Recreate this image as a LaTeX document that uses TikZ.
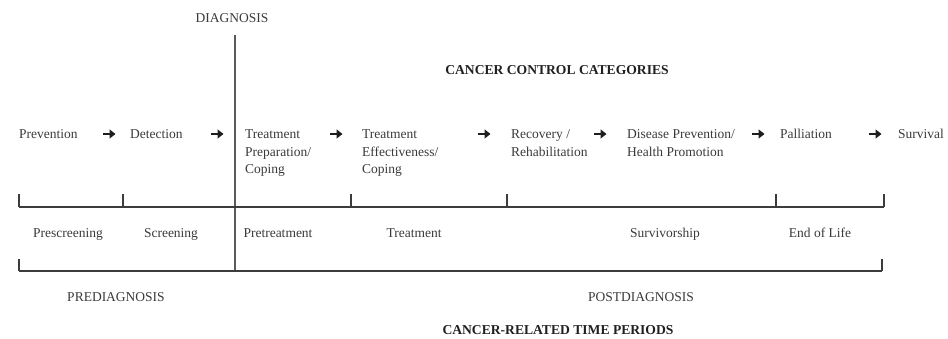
\documentclass[tikz,border=0pt]{standalone}
\usepackage{fontspec}
\setmainfont{Liberation Serif}
\usetikzlibrary{arrows.meta}
\definecolor{txtgray}{HTML}{3A3A3A}
\definecolor{ttlgray}{HTML}{202020}
\definecolor{linegray}{HTML}{3C3C3C}
\definecolor{diaggray}{HTML}{5A5A5A}
\definecolor{arrowgray}{HTML}{1E1E1E}
\newcommand{\toplines}[1]{\begin{tabular}[t]{@{}l@{}}#1\end{tabular}}
\begin{document}
\begin{tikzpicture}[x=1pt,y=-1pt,
  lbl/.style={inner sep=0pt, font=\fontsize{13.5}{17.5}\selectfont, text=txtgray},
  cat/.style={lbl, anchor=base west},
  per/.style={lbl, anchor=base},
  ttl/.style={inner sep=0pt, font=\fontsize{13.6}{16}\selectfont\bfseries, text=ttlgray, anchor=base},
  phase/.style={lbl, anchor=base},
  bar/.style={draw=linegray, line width=1.3pt},
  diagline/.style={draw=diaggray, line width=2pt},
  flow/.style={draw=arrowgray, line width=2.6pt, -{Triangle[width=9pt,length=6pt]}}]
\useasboundingbox (0,0) rectangle (948,339);

% titles
\node[lbl, anchor=base] (diagnosis) at (232,22.5) {DIAGNOSIS};
\node[ttl] (cct) at (557,74.5) {CANCER CONTROL CATEGORIES};
\node[ttl] (crtp) at (558,334.5) {CANCER-RELATED TIME PERIODS};

% cancer control categories
\node[cat] (prev) at (19,139) {Prevention};
\node[cat] (det) at (130,139) {Detection};
\node[cat] (tprep) at (245,139) {\toplines{Treatment\\Preparation/\\Coping}};
\node[cat] (teff) at (362,139) {\toplines{Treatment\\Effectiveness/\\Coping}};
\node[cat] (rec) at (511,139) {\toplines{Recovery /\\Rehabilitation}};
\node[cat] (dis) at (627,139) {\toplines{Disease Prevention/\\Health Promotion}};
\node[cat] (pal) at (780,139) {Palliation};
\node[cat] (surv) at (898,139) {Survival};

% arrows between categories
\foreach \n/\x in {a1/109,a2/217,a3/336,a4/484,a5/600,a6/758,a7/875}
  \coordinate (\n) at (\x,134);
\foreach \n in {a1,a2,a3,a4,a5,a6,a7}
  \draw[flow] ([xshift=-6.5pt]\n) -- ([xshift=6.5pt]\n);

% diagnosis line
\coordinate (dtop) at (235,35);
\coordinate (dbot) at (235,272);
\draw[diagline] (dtop) -- (dbot);

% upper bracket (time periods)
\coordinate (u0) at (19,207);
\coordinate (u6) at (884,207);
\draw[bar] (u0) -- (u6);
\foreach \x in {19,123,351,507,776,884}
  \draw[bar] (\x,207) -- (\x,194);

\node[per] (presc) at (68,237) {Prescreening};
\node[per] (scr) at (171,237) {Screening};
\node[per] (pretr) at (278,237) {Pretreatment};
\node[per] (treat) at (414,237) {Treatment};
\node[per] (survs) at (665,237) {Survivorship};
\node[per] (eol) at (820,237) {End of Life};

% lower bracket
\coordinate (l0) at (19,271);
\coordinate (l1) at (882,271);
\draw[bar] (l0) -- (l1);
\draw[bar] (19,271) -- (19,259);
\draw[bar] (882,271) -- (882,259);

\node[phase] (prediag) at (116,301.5) {PREDIAGNOSIS};
\node[phase] (postdiag) at (641,301.5) {POSTDIAGNOSIS};
\end{tikzpicture}
\end{document}
